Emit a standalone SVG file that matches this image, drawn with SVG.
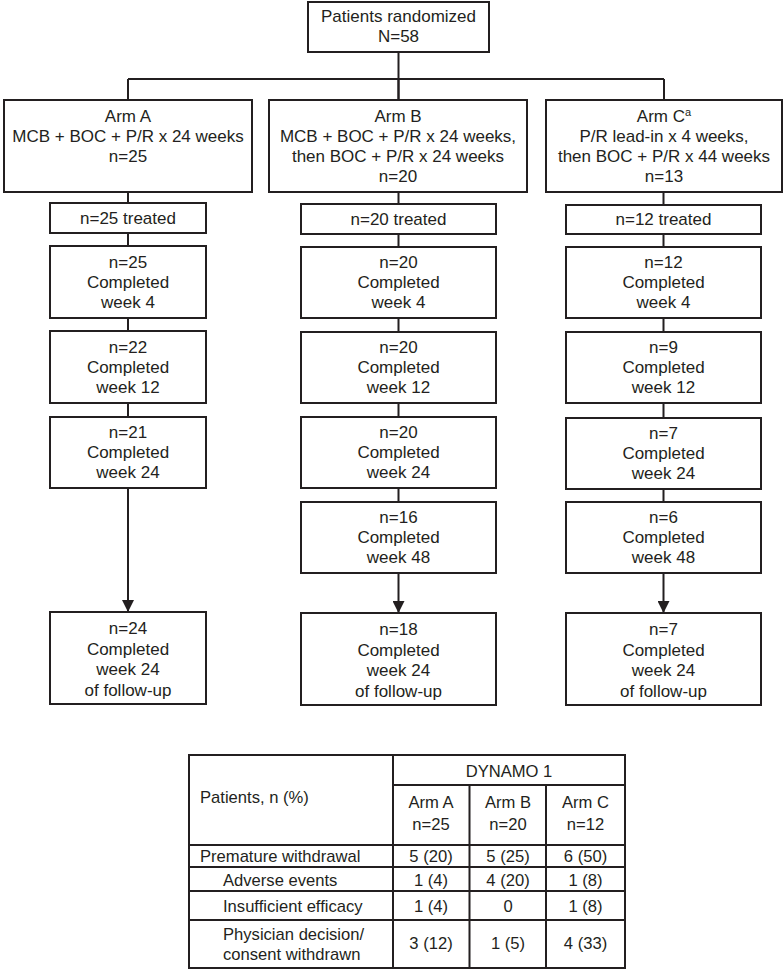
<svg xmlns="http://www.w3.org/2000/svg" width="783" height="970" viewBox="0 0 783 970">
<style>
.b{fill:#fff;stroke:#231f20;stroke-width:2}
.t{font-family:"Liberation Sans",Arial,sans-serif;font-size:17px;fill:#231f20;text-anchor:middle}
.tt{font-family:"Liberation Sans",Arial,sans-serif;font-size:16.6px;fill:#231f20}
.m{text-anchor:middle}
.c{stroke:#231f20;stroke-width:2;fill:none}
.g{stroke:#231f20;stroke-width:2}
</style>
<defs>
<marker id="ah" markerWidth="12" markerHeight="12" refX="12" refY="6" orient="auto" markerUnits="userSpaceOnUse">
<path d="M0,0 L12,6 L0,12 Z" fill="#231f20"/>
</marker>
</defs>
<rect width="783" height="970" fill="#fff"/>
<g id="connectors">
<path class="c" d="M398.5,52 V100"/>
<path class="c" d="M128,79 H664"/>
<path class="c" d="M128,79 V100 M398.5,79 V100 M664,79 V100"/>
<path class="c" d="M128,192 V203 M128,233 V246 M128,318 V331 M128,403 V417"/>
<path class="c" d="M128,488 V612" marker-end="url(#ah)"/>
<path class="c" d="M398.5,192 V204 M398.5,234 V247 M398.5,318 V332 M398.5,403 V417 M398.5,488 V502"/>
<path class="c" d="M398.5,573 V613" marker-end="url(#ah)"/>
<path class="c" d="M663.5,192 V205 M663.5,234 V247 M663.5,318 V332 M663.5,403 V418 M663.5,489 V502"/>
<path class="c" d="M663.5,573 V613" marker-end="url(#ah)"/>
</g>
<g id="top">
<rect class="b" x="308" y="2" width="181" height="50"/>
<text class="t" x="398.5" y="22">Patients randomized</text>
<text class="t" x="398.5" y="42">N=58</text>
</g>
<g id="armA">
<rect class="b" x="4" y="100" width="248" height="92"/>
<text class="t" x="128" y="122">Arm A</text>
<text class="t" x="128" y="142">MCB + BOC + P/R x 24 weeks</text>
<text class="t" x="128" y="162">n=25</text>
</g>
<g id="armB">
<rect class="b" x="269" y="100" width="258" height="92"/>
<text class="t" x="398" y="122">Arm B</text>
<text class="t" x="398" y="142">MCB + BOC + P/R x 24 weeks,</text>
<text class="t" x="398" y="162">then BOC + P/R x 24 weeks</text>
<text class="t" x="398" y="182">n=20</text>
</g>
<g id="armC">
<rect class="b" x="546" y="100" width="236" height="92"/>
<text class="t" x="664" y="122">Arm C<tspan font-size="11" dy="-6">a</tspan></text>
<text class="t" x="664" y="142">P/R lead-in x 4 weeks,</text>
<text class="t" x="664" y="162">then BOC + P/R x 44 weeks</text>
<text class="t" x="664" y="182">n=13</text>
</g>
<g id="a_treated"><rect class="b" x="50" y="203" width="156" height="30"/><text class="t" x="128" y="224">n=25 treated</text></g>
<g id="a_w4"><rect class="b" x="50" y="246" width="156" height="72"/><text class="t" x="128" y="268">n=25</text><text class="t" x="128" y="288">Completed</text><text class="t" x="128" y="308">week 4</text></g>
<g id="a_w12"><rect class="b" x="50" y="331" width="156" height="72"/><text class="t" x="128" y="353">n=22</text><text class="t" x="128" y="373">Completed</text><text class="t" x="128" y="393">week 12</text></g>
<g id="a_w24"><rect class="b" x="50" y="417" width="156" height="71"/><text class="t" x="128" y="438">n=21</text><text class="t" x="128" y="458">Completed</text><text class="t" x="128" y="478">week 24</text></g>
<g id="a_fu"><rect class="b" x="50" y="612" width="156" height="92"/><text class="t" x="128" y="634">n=24</text><text class="t" x="128" y="654.5">Completed</text><text class="t" x="128" y="675">week 24</text><text class="t" x="128" y="695.5">of follow-up</text></g>
<g id="b_treated"><rect class="b" x="301" y="204" width="195" height="30"/><text class="t" x="398.5" y="225">n=20 treated</text></g>
<g id="b_w4"><rect class="b" x="301" y="247" width="195" height="71"/><text class="t" x="398.5" y="268">n=20</text><text class="t" x="398.5" y="288">Completed</text><text class="t" x="398.5" y="308">week 4</text></g>
<g id="b_w12"><rect class="b" x="301" y="332" width="195" height="71"/><text class="t" x="398.5" y="353">n=20</text><text class="t" x="398.5" y="373">Completed</text><text class="t" x="398.5" y="393">week 12</text></g>
<g id="b_w24"><rect class="b" x="301" y="417" width="195" height="71"/><text class="t" x="398.5" y="438">n=20</text><text class="t" x="398.5" y="458">Completed</text><text class="t" x="398.5" y="478">week 24</text></g>
<g id="b_w48"><rect class="b" x="301" y="502" width="195" height="71"/><text class="t" x="398.5" y="523">n=16</text><text class="t" x="398.5" y="543">Completed</text><text class="t" x="398.5" y="563">week 48</text></g>
<g id="b_fu"><rect class="b" x="301" y="613" width="195" height="92"/><text class="t" x="398.5" y="635">n=18</text><text class="t" x="398.5" y="655.5">Completed</text><text class="t" x="398.5" y="676">week 24</text><text class="t" x="398.5" y="696.5">of follow-up</text></g>
<g id="c_treated"><rect class="b" x="566" y="205" width="195" height="29"/><text class="t" x="663.5" y="225">n=12 treated</text></g>
<g id="c_w4"><rect class="b" x="566" y="247" width="195" height="71"/><text class="t" x="663.5" y="268">n=12</text><text class="t" x="663.5" y="288">Completed</text><text class="t" x="663.5" y="308">week 4</text></g>
<g id="c_w12"><rect class="b" x="566" y="332" width="195" height="71"/><text class="t" x="663.5" y="353">n=9</text><text class="t" x="663.5" y="373">Completed</text><text class="t" x="663.5" y="393">week 12</text></g>
<g id="c_w24"><rect class="b" x="566" y="418" width="195" height="71"/><text class="t" x="663.5" y="439">n=7</text><text class="t" x="663.5" y="459">Completed</text><text class="t" x="663.5" y="479">week 24</text></g>
<g id="c_w48"><rect class="b" x="566" y="502" width="195" height="71"/><text class="t" x="663.5" y="523">n=6</text><text class="t" x="663.5" y="543">Completed</text><text class="t" x="663.5" y="563">week 48</text></g>
<g id="c_fu"><rect class="b" x="566" y="613" width="195" height="92"/><text class="t" x="663.5" y="635">n=7</text><text class="t" x="663.5" y="655.5">Completed</text><text class="t" x="663.5" y="676">week 24</text><text class="t" x="663.5" y="696.5">of follow-up</text></g>
<g id="table">
<rect class="b" x="189" y="755" width="436" height="213"/>
<path class="g" d="M393,785 H625 M189,845 H625 M189,867 H625 M189,891 H625 M189,920 H625 M393,755 V968 M469.5,785 V968 M546,785 V968"/>
<text class="tt m" x="509" y="777">DYNAMO 1</text>
<text class="tt" x="200" y="803">Patients, n (%)</text>
<text class="tt m" x="431" y="808">Arm A</text><text class="tt m" x="431" y="830">n=25</text>
<text class="tt m" x="508" y="808">Arm B</text><text class="tt m" x="508" y="830">n=20</text>
<text class="tt m" x="585.5" y="808">Arm C</text><text class="tt m" x="585.5" y="830">n=12</text>
<text class="tt" x="200" y="862">Premature withdrawal</text>
<text class="tt m" x="431" y="862">5 (20)</text><text class="tt m" x="508" y="862">5 (25)</text><text class="tt m" x="585.5" y="862">6 (50)</text>
<text class="tt" x="223" y="886">Adverse events</text>
<text class="tt m" x="431" y="886">1 (4)</text><text class="tt m" x="508" y="886">4 (20)</text><text class="tt m" x="585.5" y="886">1 (8)</text>
<text class="tt" x="223" y="912">Insufficient efficacy</text>
<text class="tt m" x="431" y="912">1 (4)</text><text class="tt m" x="508" y="912">0</text><text class="tt m" x="585.5" y="912">1 (8)</text>
<text class="tt" x="223" y="940">Physician decision/</text>
<text class="tt" x="223" y="960">consent withdrawn</text>
<text class="tt m" x="431" y="949">3 (12)</text><text class="tt m" x="508" y="949">1 (5)</text><text class="tt m" x="585.5" y="949">4 (33)</text>
</g>
</svg>
